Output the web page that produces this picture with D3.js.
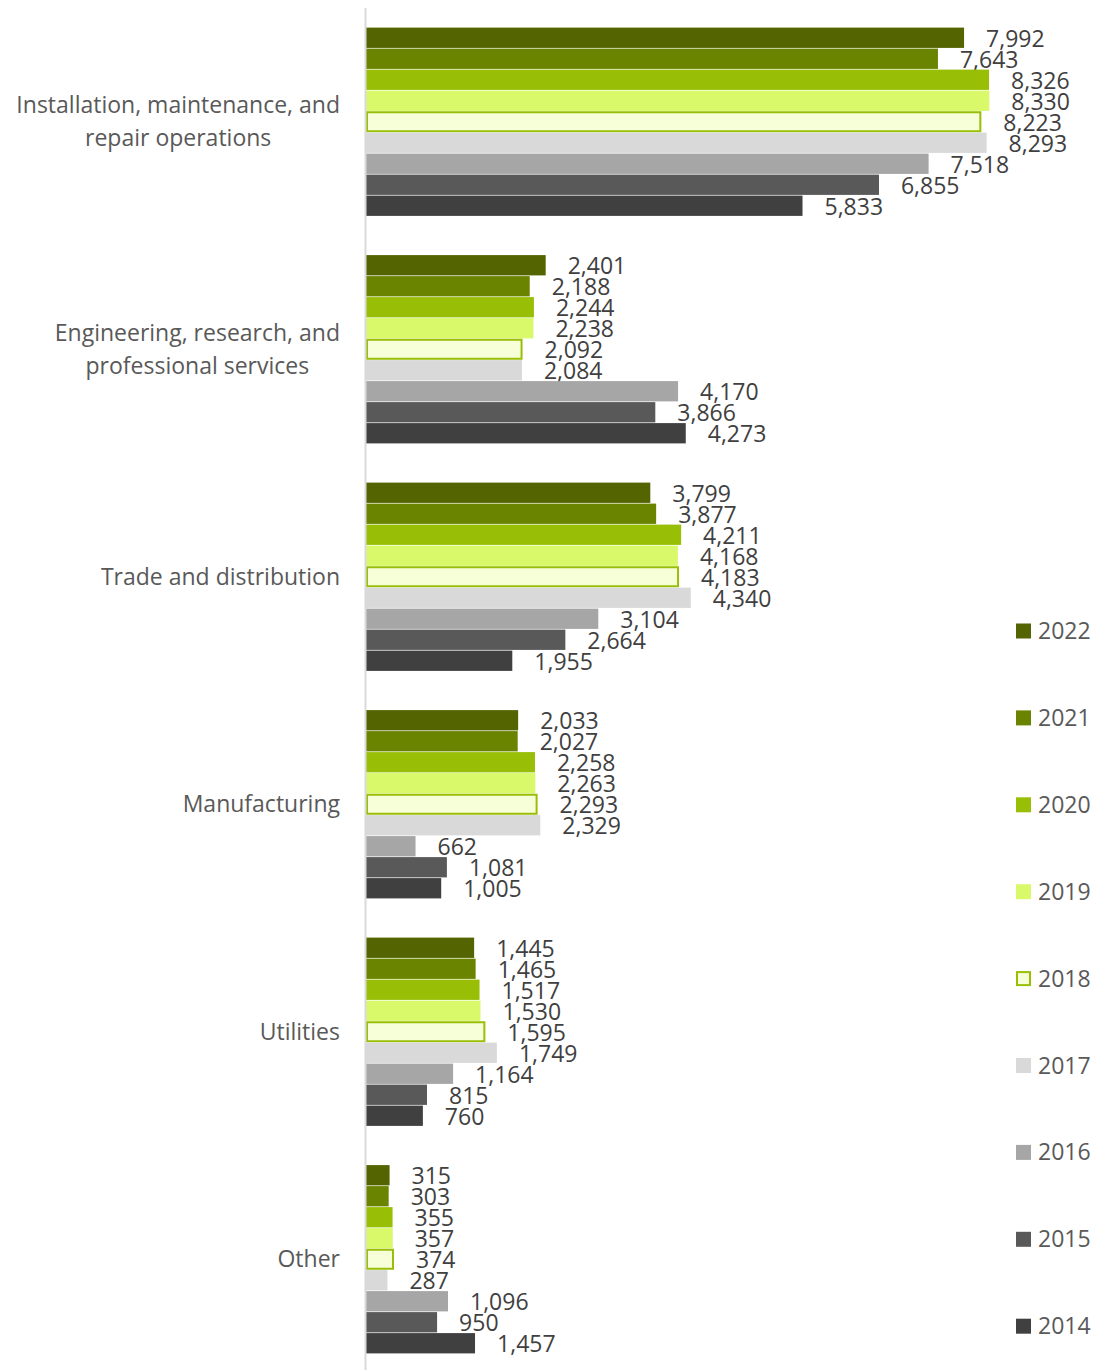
<!DOCTYPE html>
<html>
<head>
<meta charset="utf-8">
<script src="https://cdn.jsdelivr.net/npm/d3@7"></script>
<style>
  html, body { margin: 0; padding: 0; background: #fff; }
  svg { display: block; font-family: "Open Sans", sans-serif; }
</style>
</head>
<body>
<svg id="chart" width="1098" height="1370"></svg>
<script>
// Job openings by occupational area, 2014–2022
const categories = [
  ["Installation, maintenance, and", "repair operations"],
  ["Engineering, research, and", "professional services"],
  ["Trade and distribution"],
  ["Manufacturing"],
  ["Utilities"],
  ["Other"]
];
const years = ["2022", "2021", "2020", "2019", "2018", "2017", "2016", "2015", "2014"];
const v2022 = [7992, 2401, 3799, 2033, 1445, 315];
const v2021 = [7643, 2188, 3877, 2027, 1465, 303];
const v2020 = [8326, 2244, 4211, 2258, 1517, 355];
const v2019 = [8330, 2238, 4168, 2263, 1530, 357];
const v2018 = [8223, 2092, 4183, 2293, 1595, 374];
const v2017 = [8293, 2084, 4340, 2329, 1749, 287];
const v2016 = [7518, 4170, 3104, 662, 1164, 1096];
const v2015 = [6855, 3866, 2664, 1081, 815, 950];
const v2014 = [5833, 4273, 1955, 1005, 760, 1457];
const seriesValues = [v2022, v2021, v2020, v2019, v2018, v2017, v2016, v2015, v2014];

const fills   = ["#536400", "#6a8400", "#98bf05", "#d9f96b", "#f7ffd9", "#d9d9d9", "#a6a6a6", "#595959", "#404040"];
const strokes = [null, null, null, null, "#98bf05", null, null, null, null];

const FONT = 23;
const svg = d3.select("#chart");
const catIdx = categories.map((_, i) => i);

const y0 = d3.scaleBand().domain(catIdx).range([8, 1373])
  .paddingInner(38.5 / 227.5).paddingOuter(38.5 / 227.5 / 2);
const y1 = d3.scaleBand().domain(years).range([0, y0.bandwidth()]);
const x = d3.scaleLinear().domain([0, 9000]).range([366, 1039.5]);

const fmt = d3.format(",");

// bars
const groups = svg.append("g").selectAll("g")
  .data(catIdx).join("g")
  .attr("transform", i => `translate(0,${y0(i)})`);

groups.each(function (ci) {
  const g = d3.select(this);
  years.forEach((yr, si) => {
    const val = seriesValues[si][ci];
    const hasStroke = !!strokes[si];
    g.append("rect")
      .attr("x", x(0) + (hasStroke ? 1 : 0))
      .attr("y", y1(yr) + (hasStroke ? 1 : 0.35))
      .attr("width", Math.max(0, x(val) - x(0) - (hasStroke ? 2 : 0)))
      .attr("height", y1.bandwidth() - (hasStroke ? 2 : 0.7))
      .attr("fill", fills[si])
      .attr("stroke", hasStroke ? strokes[si] : "none")
      .attr("stroke-width", hasStroke ? 2 : 0);
    g.append("text")
      .attr("x", x(val) + 22)
      .attr("y", y1(yr) + y1.bandwidth() / 2 + 9)
      .attr("fill", "#404040")
      .attr("font-size", FONT)
      .text(fmt(val));
  });
});

// vertical axis line
svg.append("line")
  .attr("x1", 365.5).attr("x2", 365.5)
  .attr("y1", 8).attr("y2", 1370)
  .attr("stroke", "#d9d9d9").attr("stroke-width", 2);

// category labels: lines centred within a block right-aligned at the axis
const labelRight = 340;
catIdx.forEach(ci => {
  const lines = categories[ci];
  const cy = y0(ci) + y0.bandwidth() / 2;
  const t = svg.append("text")
    .attr("fill", "#595959")
    .attr("font-size", FONT)
    .attr("text-anchor", "middle");
  const spans = lines.map((ln, li) =>
    t.append("tspan").attr("y", cy + 8 + (li - (lines.length - 1) / 2) * 33).text(ln));
  const maxW = d3.max(spans, s => s.node().getComputedTextLength());
  spans.forEach(s => s.attr("x", labelRight - maxW / 2));
});

// legend
const legend = svg.append("g").selectAll("g")
  .data(years).join("g")
  .attr("transform", (d, i) => `translate(1016,${631 + i * 86.9})`);
legend.append("rect")
  .attr("x", (d, i) => strokes[i] ? 1 : 0)
  .attr("y", (d, i) => -7.5 + (strokes[i] ? 1 : 0))
  .attr("width", (d, i) => strokes[i] ? 13 : 15)
  .attr("height", (d, i) => strokes[i] ? 13 : 15)
  .attr("fill", (d, i) => fills[i])
  .attr("stroke", (d, i) => strokes[i] || "none")
  .attr("stroke-width", (d, i) => strokes[i] ? 2 : 0);
legend.append("text")
  .attr("x", 22).attr("y", 8)
  .attr("fill", "#595959")
  .attr("font-size", FONT)
  .text(d => d);
</script>
</body>
</html>
